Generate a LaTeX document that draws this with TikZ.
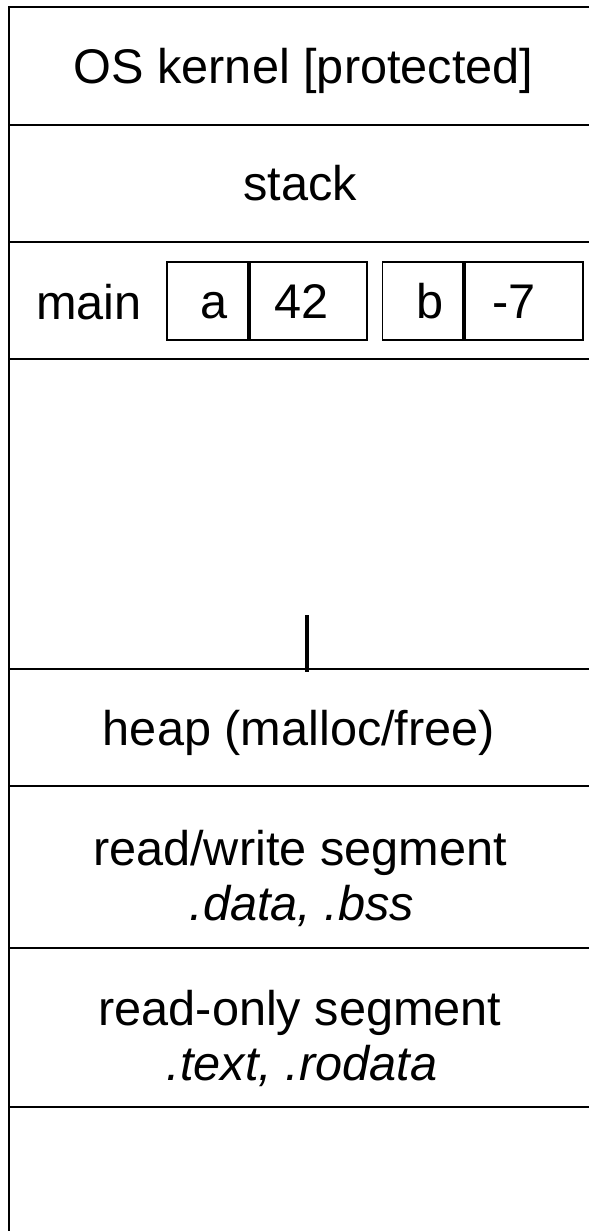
\documentclass[tikz,border=0pt]{standalone}
\usepackage{fontspec}
\setmainfont{Liberation Sans}
\begin{document}
\begin{tikzpicture}[x=0.75pt,y=-0.75pt,
  seg/.style={line width=1.5pt,black},
  lbl/.style={font=\fontsize{36.5pt}{41pt}\selectfont,anchor=base,inner sep=0pt},
  cell/.style={draw,line width=1.1pt,inner sep=0pt,text height=26pt,text depth=0pt,
     font=\fontsize{36.5pt}{41pt}\selectfont,minimum height=58.5pt},
  namecell/.style={cell,minimum width=60.75pt},
  valcell/.style={cell,minimum width=89.25pt},
  divider/.style={line width=3pt},
  tick/.style={line width=3.3pt}]
\useasboundingbox (0,0) rectangle (589,1231);
% frame
\draw[seg] (589,7) -- (9,7) -- (9,1231);
\foreach \yy in {125,242,359,669,786,948,1107}
  \draw[seg] (9,\yy) -- (589,\yy);
% labels
\node[lbl] (kernel) at (303.5,84) {OS kernel [protected]};
\node[lbl] (stack) at (300,200) {stack};
\node[lbl] (main) at (89,319) {main};
\node[namecell] (aname) at (207.5,301) {\hspace*{10pt}a};
\node[valcell] (aval) at (307.5,301) {42\hspace*{9pt}};
\node[namecell] (bname) at (423,301) {\hspace*{10pt}b};
\node[valcell] (bval) at (523.5,301) {-7\hspace*{14pt}};
\draw[divider] (aname.north east) -- (aname.south east);
\draw[divider] (bname.north east) -- (bname.south east);
\coordinate (tickTop) at (307,615);
\coordinate (tickBot) at (307,672);
\draw[tick] (tickTop) -- (tickBot);
\node[lbl] (heap) at (299,745) {heap (malloc/free)};
\node[lbl] (rw1) at (300,865) {read/write segment};
\node[lbl] (rw2) at (302,920) {\itshape .data, .bss};
\node[lbl] (ro1) at (300,1025) {read-only segment};
\node[lbl] (ro2) at (302,1080) {\itshape .text, .rodata};
\end{tikzpicture}
\end{document}
